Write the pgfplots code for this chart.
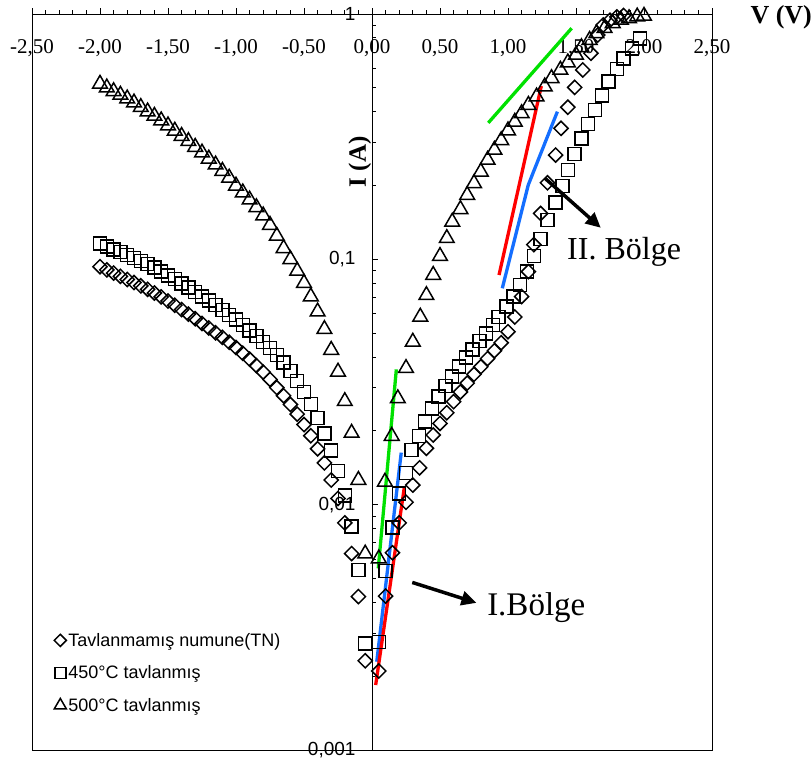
\documentclass[border=0pt]{standalone}
\usepackage{fontspec}
\setmainfont{Liberation Serif}
\setsansfont{Liberation Sans}
\usepackage{pgfplots}
\usepackage{pgfplotstable}
\pgfplotsset{compat=1.18}
\usetikzlibrary{arrows.meta}
\definecolor{fitgreen}{RGB}{0,225,0}
\definecolor{fitblue}{RGB}{20,110,255}
\definecolor{fitred}{RGB}{255,0,0}
\pgfplotsset{legimg/.style={legend image code/.code={\draw[##1, mark size=#1] plot coordinates {(0bp,0bp)};}}}

\pgfplotstableread{
x y
-2.00 0.0933
-1.95 0.0906
-1.90 0.0879
-1.85 0.0853
-1.80 0.0828
-1.75 0.0804
-1.70 0.0780
-1.65 0.0755
-1.60 0.0729
-1.55 0.0703
-1.50 0.0676
-1.45 0.0650
-1.40 0.0624
-1.35 0.0598
-1.30 0.0573
-1.25 0.0548
-1.20 0.0525
-1.15 0.0502
-1.10 0.0481
-1.05 0.0459
-1.00 0.0437
-0.95 0.0414
-0.90 0.0392
-0.85 0.0369
-0.80 0.0347
-0.75 0.0324
-0.70 0.0300
-0.65 0.0278
-0.60 0.0256
-0.55 0.0234
-0.50 0.0212
-0.45 0.0191
-0.40 0.0169
-0.35 0.0148
-0.30 0.0126
-0.25 0.0106
-0.20 0.00843
-0.15 0.00632
-0.10 0.00422
-0.05 0.00231
0.05 0.00210
0.10 0.00424
0.15 0.00637
0.20 0.00843
0.25 0.01023
0.30 0.01202
0.35 0.01413
0.40 0.01698
0.45 0.01923
0.50 0.02143
0.55 0.02371
0.60 0.0263
0.65 0.0288
0.70 0.0313
0.75 0.0340
0.80 0.0365
0.85 0.0394
0.90 0.0424
0.95 0.0457
1.00 0.0507
1.05 0.0582
1.10 0.0705
1.15 0.0891
1.19 0.1148
1.24 0.1538
1.29 0.2051
1.35 0.2661
1.39 0.3420
1.44 0.4169
1.49 0.5023
1.55 0.5916
1.61 0.6918
1.66 0.8204
1.70 0.9016
1.75 0.944
1.80 0.973
1.85 0.986
}\tn

\pgfplotstableread{
x y
-2.00 0.1161
-1.95 0.1130
-1.90 0.1099
-1.85 0.1069
-1.80 0.1040
-1.75 0.1012
-1.70 0.0984
-1.65 0.0955
-1.60 0.0925
-1.55 0.0893
-1.50 0.0861
-1.45 0.0830
-1.40 0.0798
-1.35 0.0767
-1.30 0.0736
-1.25 0.0706
-1.20 0.0678
-1.15 0.0650
-1.10 0.0622
-1.05 0.0594
-1.00 0.0568
-0.95 0.0541
-0.90 0.0514
-0.85 0.0488
-0.80 0.0461
-0.75 0.0435
-0.70 0.0407
-0.65 0.0380
-0.60 0.0351
-0.55 0.0320
-0.50 0.0288
-0.45 0.0257
-0.40 0.0226
-0.35 0.0195
-0.30 0.0166
-0.25 0.0137
-0.20 0.0109
-0.15 0.00813
-0.10 0.00541
-0.05 0.00272
0.05 0.00275
0.10 0.00537
0.15 0.00807
0.20 0.01112
0.25 0.01349
0.29 0.0167
0.345 0.01905
0.39 0.02178
0.44 0.0247
0.49 0.02754
0.54 0.0305
0.59 0.0333
0.64 0.0366
0.69 0.0398
0.74 0.0430
0.79 0.0465
0.84 0.0499
0.89 0.0540
0.93 0.0583
0.99 0.0641
1.04 0.0705
1.09 0.0785
1.14 0.0891
1.19 0.1030
1.24 0.1211
1.29 0.1445
1.35 0.1702
1.40 0.1995
1.44 0.2312
1.49 0.2692
1.54 0.3112
1.59 0.3565
1.64 0.4064
1.69 0.4645
1.74 0.5297
1.80 0.5957
1.85 0.6592
1.91 0.7240
1.97 0.7960
}\tA

\pgfplotstableread{
x y
-2.00 0.519
-1.95 0.501
-1.90 0.484
-1.85 0.468
-1.80 0.452
-1.75 0.435
-1.70 0.417
-1.65 0.400
-1.60 0.384
-1.55 0.368
-1.50 0.351
-1.45 0.334
-1.40 0.318
-1.35 0.303
-1.30 0.287
-1.25 0.272
-1.20 0.257
-1.15 0.243
-1.10 0.229
-1.05 0.215
-1.00 0.1995
-0.95 0.1871
-0.90 0.1750
-0.85 0.1629
-0.80 0.1507
-0.75 0.1380
-0.70 0.1245
-0.65 0.1109
-0.60 0.1000
-0.55 0.0897
-0.50 0.0800
-0.45 0.0705
-0.40 0.0612
-0.35 0.0519
-0.30 0.0427
-0.25 0.0348
-0.20 0.0264
-0.15 0.0196
-0.10 0.0126
-0.05 0.00631
0.05 0.00603
0.095 0.01239
0.145 0.01905
0.19 0.0271
0.25 0.0360
0.30 0.0461
0.355 0.0583
0.40 0.0714
0.45 0.0863
0.50 0.1030
0.55 0.1219
0.59 0.1422
0.65 0.1600
0.70 0.1828
0.75 0.2042
0.80 0.2275
0.85 0.2541
0.90 0.2793
0.95 0.3055
1.00 0.3350
1.05 0.3631
1.10 0.3936
1.15 0.4256
1.21 0.4603
1.27 0.5058
1.32 0.5470
1.385 0.5916
1.44 0.6339
1.50 0.6808
1.54 0.7311
1.60 0.7834
1.65 0.8337
1.71 0.8750
1.77 0.9162
1.83 0.9462
1.89 0.9594
1.95 0.9750
2.00 0.9817
}\tB

\begin{document}
\begin{tikzpicture}
\begin{axis}[
  scale only axis, width=680bp, height=736bp,
  xmin=-2.5, xmax=2.5, ymin=0.001, ymax=1, ymode=log,
  axis lines=middle,
  axis line style={-, line width=1bp, black},
  hide obscured x ticks=false, hide obscured y ticks=false,
  xtick={-2.5,-2,-1.5,-1,-0.5,0,0.5,1,1.5,2,2.5},
  xticklabels={{-2,50},{-2,00},{-1,50},{-1,00},{-0,50},{0,00},{0,50},{1,00},{1,50},{2,00},{2,50}},
  minor x tick num=4,
  ytick={0.001,0.01,0.1,1},
  yticklabels={{0,001},{0,01},{0,1},{1}},
  tick align=inside,
  major tick length=6bp, minor tick length=4bp,
  every tick/.style={black, line width=0.8bp},
  xticklabel style={font=\fontsize{21bp}{25bp}\selectfont, yshift=-22bp},
  yticklabel style={font=\sffamily\fontsize{19bp}{22bp}\selectfont, xshift=-13bp},
  clip=false,
  xlabel={\textbf{V (V)}},
  xlabel style={at={(rel axis cs:1,1)}, anchor=west, xshift=35bp, yshift=-3bp, font=\fontsize{26bp}{30bp}\selectfont},
  ylabel={\textbf{I (A)}},
  ylabel style={at={(rel axis cs:0.482,0.799)}, anchor=center, rotate=90, font=\fontsize{25bp}{30bp}\selectfont},
  legend style={draw=none, fill=none, at={(rel axis cs:0.028,0.045)}, anchor=south west,
    font=\sffamily\fontsize{18bp}{21bp}\selectfont, row sep=14bp,
    /tikz/every even column/.append style={column sep=2bp}},
  legend cell align=left,
]
\coordinate (bl) at (rel axis cs:0,0);
\coordinate (tr) at (rel axis cs:1,1);
\draw[line width=0.9bp] (rel axis cs:0,0) rectangle (rel axis cs:1,1);

\addplot[only marks, mark=square, mark size=5bp, mark options={rotate=45, fill=white, line width=1.5bp, draw=black},
  legimg=4.3bp] table[x=x,y=y] {\tn};
\addlegendentry{Tavlanmamış numune(TN)}
\addplot[only marks, mark=square, mark size=6.5bp, mark options={fill=white, line width=1.5bp, draw=black},
  legimg=5.5bp] table[x=x,y=y] {\tA};
\addlegendentry{450°C tavlanmış}
\addplot[only marks, mark=triangle, mark size=8.5bp, mark options={fill=white, line width=1.5bp, draw=black},
  legimg=7bp] table[x=x,y=y] {\tB};
\addlegendentry{500°C tavlanmış}

% region I fits
\addplot[fitgreen, line width=3.3bp, forget plot] coordinates {(0.046,0.0055) (0.179,0.0356)};
\addplot[fitblue, line width=3.3bp, forget plot] coordinates {(0.035,0.00229) (0.215,0.0163)};
\addplot[fitred, line width=3.3bp, forget plot] coordinates {(0.027,0.00184) (0.238,0.0118)};
% region II fits
\addplot[fitgreen, line width=3.3bp, forget plot] coordinates {(0.855,0.360) (1.468,0.875)};
\addplot[fitred, line width=3.3bp, forget plot] coordinates {(0.934,0.0863) (1.245,0.5085)};
\addplot[fitblue, line width=3.3bp, forget plot] coordinates {(0.958,0.0762) (1.149,0.201) (1.363,0.400)};

\draw[line width=3.5bp, -{Triangle[length=15bp, width=14bp]}] (axis cs:0.296,0.00482) -- (axis cs:0.768,0.00398);
\draw[line width=3.5bp, -{Triangle[length=15bp, width=14bp]}] (axis cs:1.272,0.2140) -- (axis cs:1.682,0.1345);
\node[anchor=west, font=\fontsize{33bp}{37bp}\selectfont, inner sep=0pt] at (axis cs:0.846,0.00380) {I.Bölge};
\node[anchor=west, font=\fontsize{32bp}{36bp}\selectfont, inner sep=0pt] at (axis cs:1.434,0.107) {II. Bölge};
\end{axis}
\pgfresetboundingbox
\path[use as bounding box] ([xshift=-32bp,yshift=-14bp]bl) rectangle ([xshift=99bp,yshift=14bp]tr);
\end{tikzpicture}
\end{document}
